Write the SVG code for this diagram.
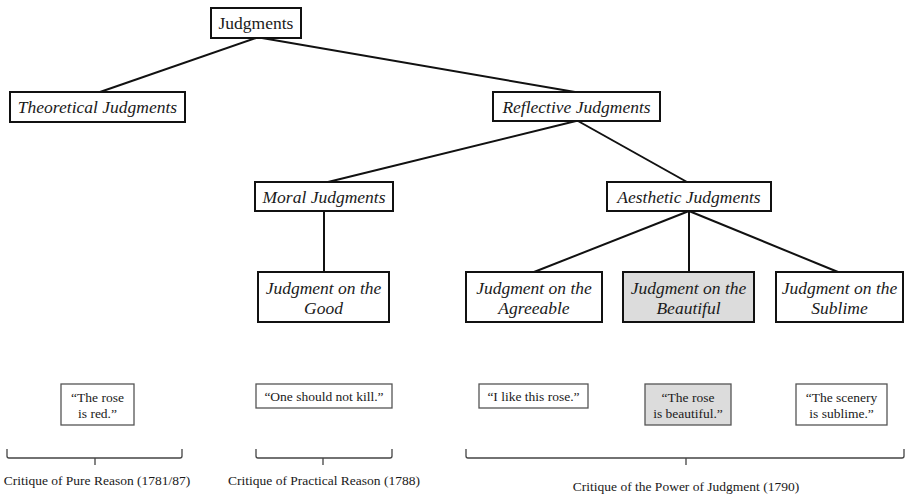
<svg xmlns="http://www.w3.org/2000/svg" width="907" height="496" viewBox="0 0 907 496">
<style>
.node rect{fill:#fff;stroke:#111;stroke-width:2}
.node.hl rect{fill:#dcdcdc}
.t{font-family:"Liberation Serif","Times New Roman",serif;font-size:17.5px;fill:#1a1a1a;text-anchor:middle}
.i{font-style:italic}
.q rect{fill:#fff;stroke:#555;stroke-width:1.3}
.q.hl rect{fill:#dcdcdc}
.qt{font-family:"Liberation Serif","Times New Roman",serif;font-size:13.5px;fill:#1a1a1a;text-anchor:middle}
.edge line{stroke:#111;stroke-width:2}
.brace path{fill:none;stroke:#444;stroke-width:1.3}
</style>
<rect width="907" height="496" fill="#fff"/>
<g class="edge" id="connectors">
<line x1="256" y1="38" x2="100" y2="92"/>
<line x1="262" y1="38" x2="575" y2="92"/>
<line x1="576" y1="121" x2="328" y2="182"/>
<line x1="578" y1="121" x2="687" y2="182"/>
<line x1="324" y1="211" x2="324" y2="272"/>
<line x1="689" y1="211" x2="534" y2="272"/>
<line x1="689" y1="211" x2="689" y2="272"/>
<line x1="689" y1="211" x2="838" y2="272"/>
</g>
<g class="node" id="judgments"><rect x="211" y="8" width="90" height="30"/><text class="t" x="256" y="29">Judgments</text></g>
<g class="node" id="theoretical"><rect x="10" y="92" width="175" height="30"/><text class="t i" x="97.5" y="113">Theoretical Judgments</text></g>
<g class="node" id="reflective"><rect x="493" y="92" width="167" height="29"/><text class="t i" x="576.5" y="112.5">Reflective Judgments</text></g>
<g class="node" id="moral"><rect x="255" y="182" width="138" height="29"/><text class="t i" x="324" y="202.5">Moral Judgments</text></g>
<g class="node" id="aesthetic"><rect x="607" y="182" width="164" height="29"/><text class="t i" x="689" y="202.5">Aesthetic Judgments</text></g>
<g class="node" id="good"><rect x="258" y="272" width="131" height="50"/><text class="t i" x="323.5" y="294">Judgment on the</text><text class="t i" x="323.5" y="314">Good</text></g>
<g class="node" id="agreeable"><rect x="466" y="272" width="136" height="50"/><text class="t i" x="534" y="294">Judgment on the</text><text class="t i" x="534" y="314">Agreeable</text></g>
<g class="node hl" id="beautiful"><rect x="623" y="272" width="131" height="50"/><text class="t i" x="688.5" y="294">Judgment on the</text><text class="t i" x="688.5" y="314">Beautiful</text></g>
<g class="node" id="sublime"><rect x="776" y="272" width="127" height="50"/><text class="t i" x="839.5" y="294">Judgment on the</text><text class="t i" x="839.5" y="314">Sublime</text></g>
<g class="q" id="q-red"><rect x="61" y="384" width="73" height="41"/><text class="qt" x="97.5" y="402">“The rose</text><text class="qt" x="97.5" y="418">is red.”</text></g>
<g class="q" id="q-kill"><rect x="256" y="384" width="136" height="24"/><text class="qt" x="324" y="400.5">“One should not kill.”</text></g>
<g class="q" id="q-like"><rect x="479" y="384" width="109" height="24"/><text class="qt" x="533.5" y="400.5">“I like this rose.”</text></g>
<g class="q hl" id="q-beautiful"><rect x="645" y="384" width="86" height="41"/><text class="qt" x="688" y="402">“The rose</text><text class="qt" x="688" y="418">is beautiful.”</text></g>
<g class="q" id="q-sublime"><rect x="796" y="384" width="91" height="41"/><text class="qt" x="841.5" y="402">“The scenery</text><text class="qt" x="841.5" y="418">is sublime.”</text></g>
<g class="brace" id="braces">
<path d="M7,449 V456 Q7,458 9,458 H180 Q182,458 182,456 V449 M95,458 V465"/>
<path d="M256,449 V456 Q256,458 258,458 H390 Q392,458 392,456 V449 M323,458 V465"/>
<path d="M466,449 V456 Q466,458 468,458 H902 Q904,458 904,456 V449 M686,458 V465"/>
</g>
<g id="labels">
<text class="qt" x="97" y="485">Critique of Pure Reason (1781/87)</text>
<text class="qt" x="324" y="485">Critique of Practical Reason (1788)</text>
<text class="qt" x="686" y="491">Critique of the Power of Judgment (1790)</text>
</g>
</svg>
